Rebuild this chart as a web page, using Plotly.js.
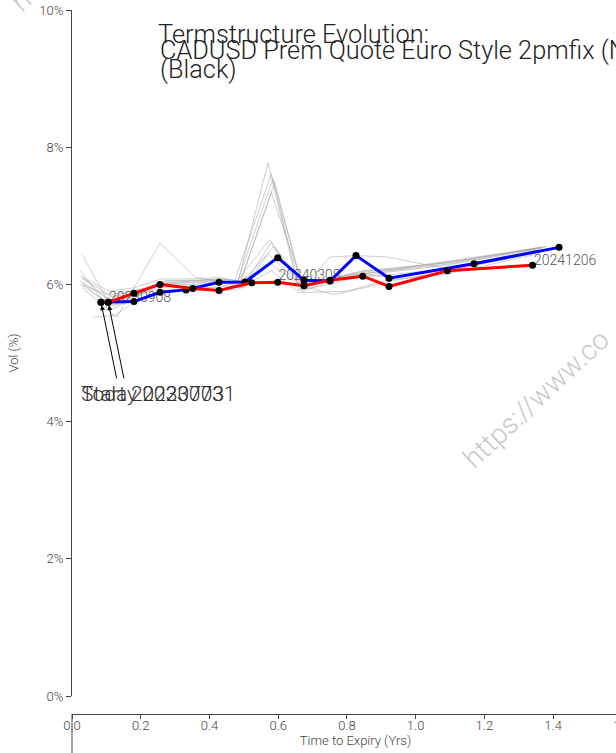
<!DOCTYPE html>
<html>
<head>
<meta charset="utf-8">
<script src="https://cdn.plot.ly/plotly-3.0.1.min.js"></script>
<style>
html,body{margin:0;padding:0;overflow:hidden;background:#fff;}
#chart{width:719px;height:753px;}
</style>
</head>
<body>
<div id="chart"></div>
<script>
// ---- data ----
const blueX = [0.0844,0.1056,0.1804,0.2561,0.3318,0.4278,0.5035,0.5987,0.6752,0.7509,0.8265,0.9226,1.1700,1.4173];
const blueY = [5.74,5.74,5.75,5.885,5.92,6.03,6.035,6.39,6.06,6.05,6.42,6.09,6.30,6.54];
const redX  = [0.0844,0.1056,0.1804,0.2561,0.3513,0.4278,0.5230,0.5987,0.6752,0.7509,0.8460,0.9226,1.0923,1.3402];
const redY  = [5.74,5.74,5.87,6.00,5.94,5.91,6.025,6.03,5.98,6.06,6.12,5.97,6.20,6.28];

const grayX1 = [0.028,0.10,0.17,0.26,0.34,0.43,0.48,0.57,0.66,0.75,0.84,0.92,1.09,1.36];
const grayY1 = [6.45,5.80,5.90,5.98,6.00,6.02,5.98,7.77,5.92,6.00,6.12,6.18,6.28,6.52];
const grayX2 = [0.025,0.11,0.18,0.26,0.34,0.42,0.47,0.58,0.66,0.75,0.84,0.92,1.10,1.37];
const grayY2 = [6.20,5.62,5.80,6.00,6.03,6.05,6.00,7.61,5.98,6.05,6.15,6.20,6.32,6.55];
const grayX3 = [0.026,0.12,0.18,0.26,0.35,0.43,0.48,0.585,0.67,0.76,0.85,0.93,1.10,1.37];
const grayY3 = [6.13,5.70,5.82,6.02,6.02,6.04,6.02,7.54,5.95,6.08,6.18,6.22,6.33,6.53];
const grayX4 = [0.024,0.12,0.19,0.27,0.35,0.43,0.49,0.59,0.67,0.76,0.85,0.93,1.10,1.38];
const grayY4 = [6.05,5.75,5.85,6.05,6.05,6.06,6.03,7.49,5.98,6.10,6.16,6.20,6.30,6.55];
const grayX5 = [0.025,0.12,0.19,0.27,0.35,0.44,0.49,0.58,0.67,0.76,0.85,0.93,1.11,1.38];
const grayY5 = [6.00,5.82,5.88,6.05,6.06,6.08,6.05,7.34,6.00,6.08,6.20,6.22,6.35,6.55];
const grayX6 = [0.03,0.13,0.256,0.36,0.50,0.58,0.67,0.76,0.85,0.93,1.10,1.36];
const grayY6 = [5.95,5.52,6.60,6.10,5.98,6.62,5.90,6.05,6.15,6.10,6.25,6.50];
const grayX7 = [0.061,0.125,0.20,0.28,0.37,0.45,0.50,0.585,0.67,0.76,0.85,0.93,1.10,1.37];
const grayY7 = [5.52,5.55,5.80,5.90,5.95,5.97,5.95,6.55,5.98,5.85,5.95,6.05,6.20,6.48];
const grayX8 = [0.03,0.11,0.19,0.27,0.35,0.43,0.49,0.58,0.67,0.751,0.83,0.916,1.08,1.36];
const grayY8 = [6.08,5.85,5.92,6.02,6.05,6.08,6.05,6.30,5.95,6.40,6.42,6.40,6.24,6.50];
const grayX9 = [0.03,0.11,0.18,0.26,0.34,0.42,0.48,0.57,0.66,0.74,0.82,0.92,1.09,1.35];
const grayY9 = [5.98,5.72,5.83,5.95,5.98,6.00,5.96,6.45,6.02,6.03,6.10,6.14,6.22,6.50];
const grayX10 = [0.03,0.11,0.18,0.26,0.34,0.42,0.48,0.58,0.66,0.80,0.916,1.09,1.36];
const grayY10 = [6.02,5.68,5.76,5.90,5.94,5.95,5.92,6.20,5.88,5.90,6.06,6.15,6.45];
const grayX11 = [0.03,0.11,0.18,0.26,0.35,0.43,0.48,0.575,0.67,0.76,0.85,0.93,1.10,1.37];
const grayY11 = [6.10,5.90,5.95,6.08,6.08,6.10,6.05,6.65,6.02,6.10,6.20,6.24,6.32,6.54];

const labelX = [0.198,0.691,1.435];
const labelY = [5.80,6.12,6.34];
const labelText = ['20230908','20240308','20241206'];

const startText = 'Start 20230703';
const todayText = 'Today 20230731';
const textPosX = 0.0195, textPosY = 4.40;

const titleLines = ['Termstructure Evolution:', 'CADUSD Prem Quote Euro Style 2pmfix (NY Cut)', '(Black)'];
const watermark = 'https://www.co';

// ---- traces ----
const grays = [[grayX1,grayY1],[grayX2,grayY2],[grayX3,grayY3],[grayX4,grayY4],[grayX5,grayY5],
  [grayX6,grayY6],[grayX7,grayY7],[grayX8,grayY8],[grayX9,grayY9],[grayX10,grayY10],[grayX11,grayY11]];
const traces = grays.map(g => ({
  x: g[0], y: g[1], type: 'scatter', mode: 'lines',
  line: {color: 'rgba(165,165,165,0.55)', width: 1}, showlegend: false, hoverinfo: 'skip'
}));
traces.push({x: labelX, y: labelY, text: labelText, mode: 'text', type: 'scatter',
  textfont: {size: 14, color: '#555', family: 'Roboto', weight: 300}, textposition: 'middle center', showlegend: false});
traces.push({x: blueX, y: blueY, type: 'scatter', mode: 'lines+markers',
  line: {color: '#0000ff', width: 3}, marker: {color: '#000', size: 7}, showlegend: false});
traces.push({x: redX, y: redY, type: 'scatter', mode: 'lines+markers',
  line: {color: '#ff0000', width: 3}, marker: {color: '#000', size: 7}, showlegend: false});

const H = 753, plotTop = 10, plotBottom = 714;
const ph = plotBottom - plotTop;
const py = p => (plotBottom - p) / ph;
const px = p => (p - 72) / 567;

const titleFont = {size: 25.3, family: 'Roboto', weight: 300, color: '#222'};
const wmFont = {size: 28, color: 'rgba(150,150,150,0.55)', family: 'Roboto', weight: 300};

const layout = {
  width: 719, height: H,
  margin: {l: 72, r: 80, t: plotTop, b: H - plotBottom, autoexpand: false},
  paper_bgcolor: '#fff', plot_bgcolor: '#fff',
  font: {family: 'Roboto', weight: 300, color: '#444', size: 13},
  hovermode: false,
  title: {text: titleLines[0], font: titleFont,
    x: 158/719, xanchor: 'left', xref: 'container', y: 1 - 34/H, yanchor: 'middle', yref: 'container'},
  xaxis: {range: [0, 1.65], dtick: 0.2, tickformat: '.1f', showgrid: false, zeroline: false,
    showline: true, linecolor: '#444', linewidth: 1, ticks: 'outside', ticklen: 4, tickcolor: '#444',
    anchor: 'free', position: 0, tickfont: {size: 13}, ticklabelstandoff: -5,
    title: {text: 'Time to Expiry (Yrs)', font: {size: 13}, standoff: 0}},
  yaxis: {range: [0, 10], dtick: 2, ticksuffix: '%', showgrid: false, zeroline: false,
    domain: [(plotBottom - 696) / ph, 1],
    showline: true, linecolor: '#444', linewidth: 1, ticks: 'outside', ticklen: 5, tickcolor: '#444',
    tickfont: {size: 13}, title: {text: 'Vol (%)', font: {size: 13}, standoff: 17}},
  shapes: [{type: 'line', xref: 'paper', yref: 'paper', x0: 0, x1: 0, y0: 0, y1: -0.2,
    line: {color: '#444', width: 1}}],
  annotations: [
    {xref: 'paper', yref: 'paper', x: px(158), y: py(51), xanchor: 'left', yanchor: 'middle',
      text: titleLines[1], showarrow: false, font: titleFont},
    {xref: 'paper', yref: 'paper', x: px(158), y: py(69), xanchor: 'left', yanchor: 'middle',
      text: titleLines[2], showarrow: false, font: titleFont},
    {xref: 'x', yref: 'y', x: blueX[0], y: blueY[0], ax: 16, ay: 78, text: ' ', font: {size: 1},
      showarrow: true, arrowhead: 2, arrowsize: 1, arrowwidth: 1, arrowcolor: '#000', standoff: 3},
    {xref: 'x', yref: 'y', x: blueX[1], y: blueY[1], ax: 16, ay: 78, text: ' ', font: {size: 1},
      showarrow: true, arrowhead: 2, arrowsize: 1, arrowwidth: 1, arrowcolor: '#000', standoff: 3},
    {xref: 'x', yref: 'y', x: textPosX, y: textPosY, xanchor: 'left', yanchor: 'middle', text: startText,
      showarrow: false, font: {size: 21, color: '#333', family: 'Roboto', weight: 300}},
    {xref: 'x', yref: 'y', x: textPosX, y: textPosY, xanchor: 'left', yanchor: 'middle', text: todayText,
      showarrow: false, font: {size: 21, color: '#333', family: 'Roboto', weight: 300}},
    {xref: 'x', yref: 'y', x: 1.352, y: 4.33, xanchor: 'center', yanchor: 'middle', text: watermark,
      showarrow: false, textangle: -43, font: wmFont},
    {xref: 'paper', yref: 'paper', x: px(84), y: py(-57), xanchor: 'center', yanchor: 'middle', text: watermark,
      showarrow: false, textangle: -43, font: wmFont}
  ]
};

Plotly.newPlot('chart', traces, layout, {displayModeBar: false, staticPlot: true});
</script>
</body>
</html>
